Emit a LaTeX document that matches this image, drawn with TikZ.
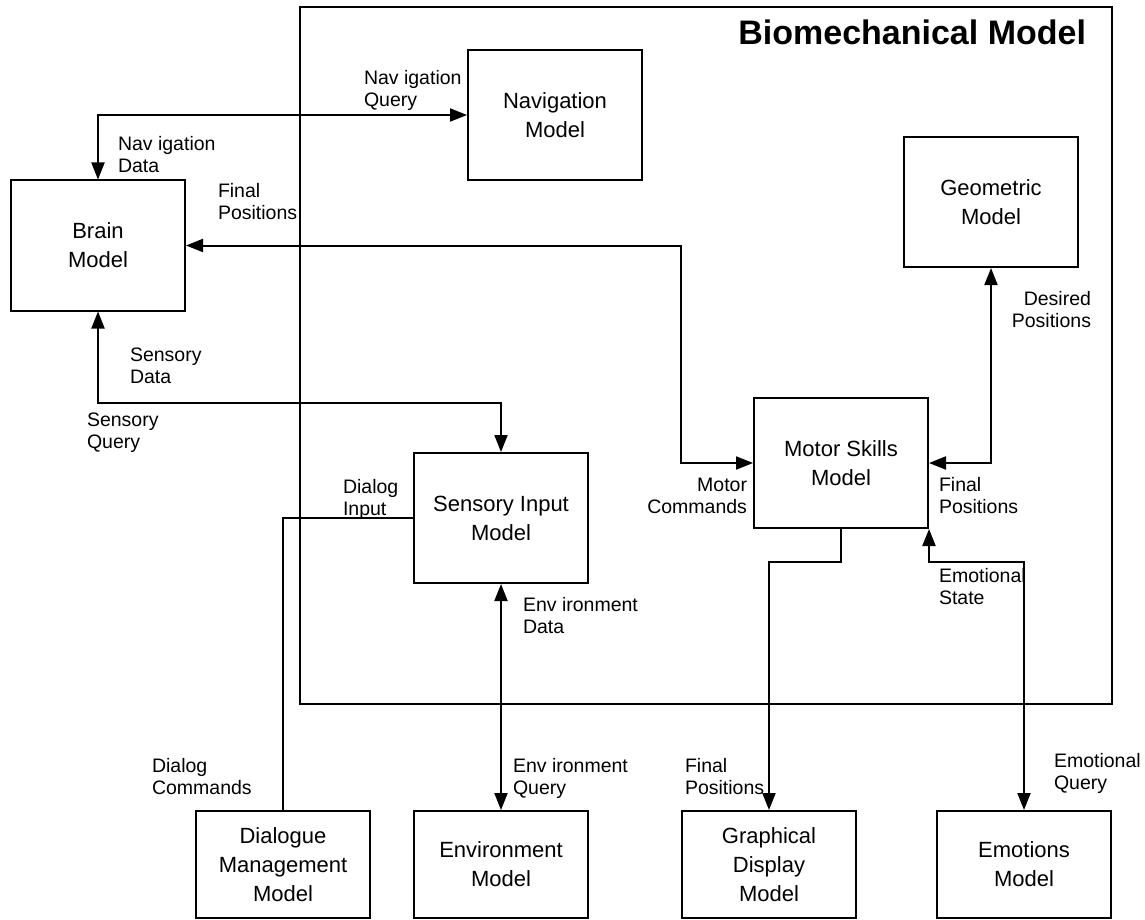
\documentclass[tikz,border=0pt]{standalone}
\usepackage{fontspec}
\setmainfont{Liberation Sans}
\usetikzlibrary{arrows.meta}

\begin{document}
\begin{tikzpicture}[x=1pt,y=-1pt,
  line width=2pt,
  modelbox/.style={draw, line width=2pt, minimum width=174pt, minimum height=130pt,
    align=center, inner sep=0pt, font=\fontsize{22}{29}\selectfont},
  lowbox/.style={modelbox, minimum height=107pt},
  lbl/.style={inner sep=0pt, font=\fontsize{19.5}{22}\selectfont},
  lbll/.style={lbl, align=left, anchor=base west},
  lblr/.style={lbl, align=right, anchor=base east},
  tip/.style={Triangle[length=17pt,width=13pt]},
  flow/.style={line width=2pt, arrows={Triangle[length=17pt,width=13pt]-Triangle[length=17pt,width=13pt]}},
  oneway/.style={line width=2pt, -{Triangle[length=17pt,width=13pt]}}
]
\useasboundingbox (0,0) rectangle (1145,920);

% enclosing biomechanical model region
\node[draw, line width=2pt, minimum width=812pt, minimum height=697pt, anchor=north west, inner sep=0pt] (bio) at (299,6) {};
\node[anchor=base east, inner sep=0pt, font=\fontsize{34}{38}\selectfont\bfseries] (title) at (1087,45) {Biomechanical Model};

% model blocks
\node[modelbox] (brain) at (98,245.5) {Brain\\Model};
\node[modelbox] (nav) at (555,115) {Navigation\\Model};
\node[modelbox] (geo) at (991,202) {Geometric\\Model};
\node[modelbox] (motor) at (841,463) {Motor Skills\\Model};
\node[modelbox] (sens) at (501,518) {Sensory Input\\Model};

\node[lowbox] (dlg) at (283,864.5) {Dialogue\\Management\\Model};
\node[lowbox] (env) at (501,864.5) {Environment\\Model};
\node[lowbox] (gfx) at (769,864.5) {Graphical\\Display\\Model};
\node[lowbox] (emo) at (1024,864.5) {Emotions\\Model};

% connector labels (placed by the baseline of their last line)
\node[lbll] (lnavq) at (363,107) {Nav igation\\Query};
\node[lbll] (lnavd) at (117,173) {Nav igation\\Data};
\node[lbll] (lfpb) at (217,219) {Final\\Positions};
\node[lbll] (lsd) at (129,383) {Sensory\\Data};
\node[lbll] (lsq) at (86,448) {Sensory\\Query};
\node[lbll] (ldi) at (342,515) {Dialog\\Input};
\node[lblr] (lmc) at (748,513) {Motor\\Commands};
\node[lbll] (lfpm) at (938,513) {Final\\Positions};
\node[lblr] (ldp) at (1092,327) {Desired\\Positions};
\node[lbll] (les) at (938,604) {Emotional\\State};
\node[lbll] (led) at (522,633) {Env ironment\\Data};
\node[lbll] (ldc) at (151,794) {Dialog\\Commands};
\node[lbll] (leq) at (512,794) {Env ironment\\Query};
\node[lbll] (lfpg) at (684,794) {Final\\Positions};
\node[lbll] (lemq) at (1053,789) {Emotional\\Query};

% bend points of the routed connectors
\coordinate (fpx) at (681,0);
\coordinate (sqy) at (0,403);
\coordinate (outy) at (0,562);

% connectors
\draw[flow] (brain.north) |- (nav.west);
\draw[flow] (brain.east) -- (brain.east -| fpx) |- (motor.west);
\draw[flow] (geo.south) |- (motor.east);
\draw[flow] (brain.south) -- (brain.south |- sqy) -| (sens.north);
\draw (sens.west) -| (dlg.north);
\draw[flow] (sens.south) -- (env.north);
\draw[oneway] (motor.south) -- (motor.south |- outy) -| (gfx.north);
\draw[flow] (motor.south east) -- (motor.south east |- outy) -| (emo.north);
\end{tikzpicture}
\end{document}
